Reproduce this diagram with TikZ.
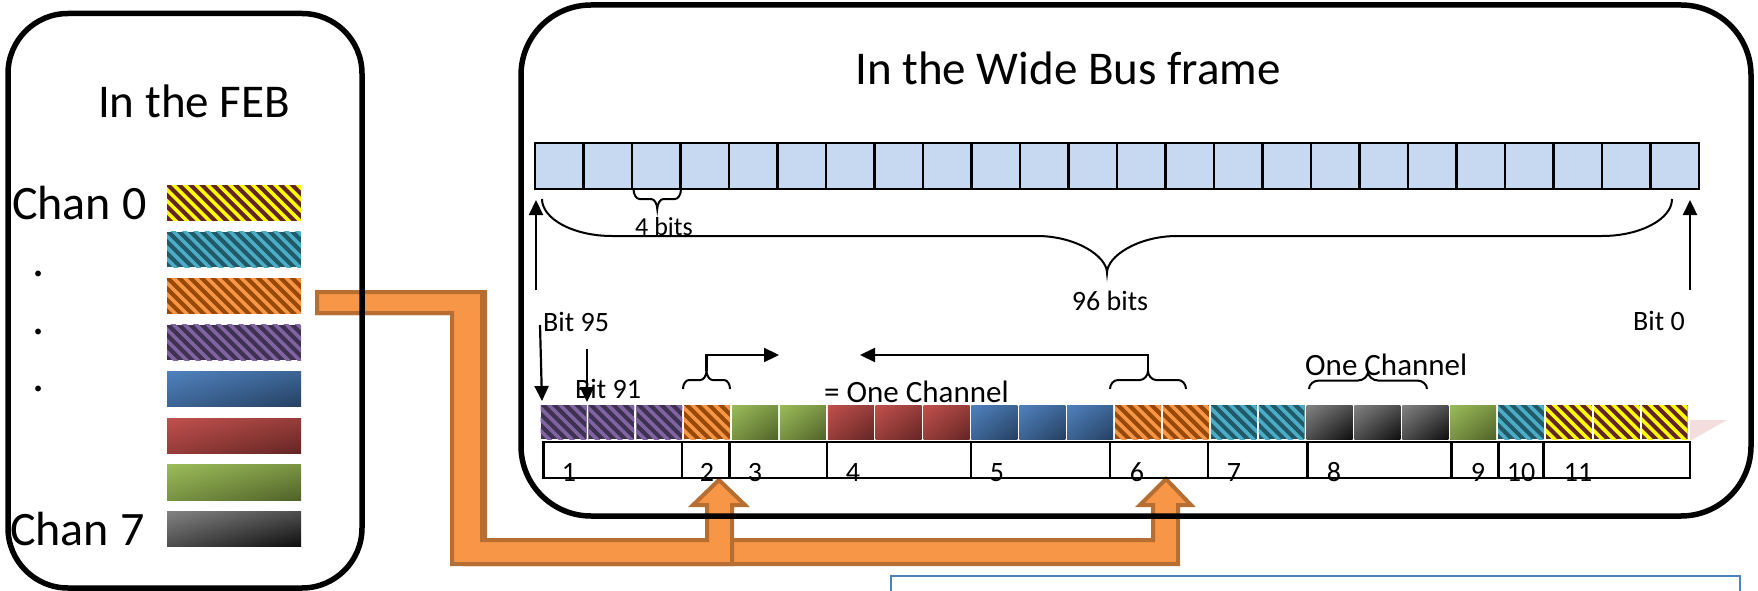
\documentclass[tikz,border=0pt]{standalone}
\usepackage{fontspec}
\setmainfont{Carlito}
\usetikzlibrary{arrows.meta,shadings}
\definecolor{busfill}{RGB}{198,217,241}
\definecolor{orfill}{RGB}{247,150,70}
\definecolor{ordraw}{RGB}{183,110,50}
\definecolor{purD}{RGB}{63,49,81}
\definecolor{purL}{RGB}{128,100,162}
\definecolor{orD}{RGB}{152,72,7}
\definecolor{orL}{RGB}{247,150,70}
\definecolor{teD}{RGB}{33,89,104}
\definecolor{teL}{RGB}{75,172,198}
\definecolor{yeD}{RGB}{99,37,35}
\definecolor{yeL}{RGB}{255,255,0}
\definecolor{blL}{RGB}{79,129,189}
\definecolor{blD}{RGB}{37,64,97}
\definecolor{reL}{RGB}{192,80,77}
\definecolor{reD}{RGB}{99,37,35}
\definecolor{grL}{RGB}{155,187,89}
\definecolor{grD}{RGB}{79,98,40}
\definecolor{gyL}{RGB}{130,130,130}
\definecolor{gyD}{RGB}{13,13,13}
\definecolor{boxblue}{RGB}{79,129,189}
\definecolor{pinkish}{RGB}{244,222,221}

\newcommand{\stripes}[6]{%
  \begin{scope}
    \clip (#1,#2) rectangle (#3,#4);
    \fill[#5] (#1,#2) rectangle (#3,#4);
    \pgfmathsetmacro\stH{#4-#2}
    \foreach \sk in {0,...,16}{
      \draw[#6, line width=3.6pt] ({#1-\stH-6+11.3*\sk},{#2-3}) -- ++(\stH+10,\stH+10);
    }
  \end{scope}}
\newcommand{\gradbox}[6]{%
  \shade[upper left=#5, lower right=#6, upper right=#5!55!#6, lower left=#5!55!#6] (#1,#2) rectangle (#3,#4);}
\newcommand{\sqpu}[4]{\stripes{#1}{#2}{#3}{#4}{purD}{purL}}
\newcommand{\sqor}[4]{\stripes{#1}{#2}{#3}{#4}{orD}{orL}}
\newcommand{\sqte}[4]{\stripes{#1}{#2}{#3}{#4}{teD}{teL}}
\newcommand{\sqye}[4]{\stripes{#1}{#2}{#3}{#4}{yeD}{yeL}}
\newcommand{\sqbl}[4]{\gradbox{#1}{#2}{#3}{#4}{blL}{blD}}
\newcommand{\sqre}[4]{\gradbox{#1}{#2}{#3}{#4}{reL}{reD}}
\newcommand{\sqgr}[4]{\gradbox{#1}{#2}{#3}{#4}{grL}{grD}}
\newcommand{\sqgy}[4]{\gradbox{#1}{#2}{#3}{#4}{gyL}{gyD}}

% horizontal curly brace: x1, x2, y of ends, signed height (+ = downwards), end radius
\newcommand{\hbr}[5]{%
  \pgfmathsetmacro\bxm{(#1+#2)/2}%
  \pgfmathsetmacro\byA{#3+0.27*(#4)}%
  \pgfmathsetmacro\byB{#3+0.5*(#4)}%
  \pgfmathsetmacro\byD{#3+0.77*(#4)}%
  \pgfmathsetmacro\byC{#3+(#4)}%
  \pgfmathsetmacro\bxa{#1+#5}%
  \pgfmathsetmacro\bxaa{#1+0.45*#5}%
  \pgfmathsetmacro\bxb{\bxm-#5}%
  \pgfmathsetmacro\bxbb{\bxm-0.45*#5}%
  \pgfmathsetmacro\bxc{\bxm+#5}%
  \pgfmathsetmacro\bxcc{\bxm+0.45*#5}%
  \pgfmathsetmacro\bxd{#2-#5}%
  \pgfmathsetmacro\bxdd{#2-0.45*#5}%
  \draw[braceline] (#1,#3) .. controls (#1,\byA) and (\bxaa,\byB) .. (\bxa,\byB) -- (\bxb,\byB)
    .. controls (\bxbb,\byB) and (\bxm,\byD) .. (\bxm,\byC)
    .. controls (\bxm,\byD) and (\bxcc,\byB) .. (\bxc,\byB) -- (\bxd,\byB)
    .. controls (\bxdd,\byB) and (#2,\byA) .. (#2,#3);}

\tikzset{
  big/.style={font=\fontsize{47pt}{50pt}\selectfont, inner sep=0pt},
  chan/.style={font=\fontsize{48pt}{50pt}\selectfont, inner sep=0pt},
  lbl/.style={font=\fontsize{28pt}{30pt}\selectfont, inner sep=0pt},
  chl/.style={font=\fontsize{31pt}{33pt}\selectfont, inner sep=0pt},
  sml/.style={font=\fontsize{26pt}{28pt}\selectfont, inner sep=0pt},
  frame/.style={draw=black, line width=5.5pt},
  buscell/.style={draw=black, fill=busfill, line width=2.5pt},
  numbox/.style={draw=black, line width=2.5pt},
  braceline/.style={draw=black, line width=2pt},
  arr/.style={line width=2.2pt, -{Triangle[length=15pt,width=14pt]}},
  oarr/.style={fill=orfill, draw=ordraw, line width=4pt, line join=miter},
}

\begin{document}
\begin{tikzpicture}[x=1pt, y=-1pt]
\useasboundingbox (0,0) rectangle (1758,591);
\clip (0,0) rectangle (1758,591);

% orange arrows (drawn beneath the frames)
\draw[oarr] (317,292) -- (485,292) -- (485,540) -- (1153,540) -- (1153,505) -- (1140,505) -- (1166,479) -- (1191,505) -- (1178,505) -- (1178,564) -- (464,564) -- (464,313) -- (317,313) -- cycle;
\draw[oarr] (317,292) -- (482,292) -- (482,540) -- (707,540) -- (707,505) -- (693,505) -- (719,480) -- (745,505) -- (732,505) -- (732,564) -- (452,564) -- (452,313) -- (317,313) -- cycle;

% frames
\draw[frame, rounded corners=60pt] (8,13.5) rectangle (362,588);
\draw[frame, rounded corners=70pt] (521,5) rectangle (1751,516);

% blue text box (bottom right)
\draw[boxblue, line width=2pt] (891,576) rectangle (1740,640);

% titles
\node[big, anchor=base] (feb) at (194,117.5) {In the FEB};
\node[big, anchor=base] (wbf) at (1068,85) {In the Wide Bus frame};

% FEB channels
\node[chan, anchor=base west] (c0) at (12,219) {Chan 0};
\node[chan, anchor=base west] (c7) at (10,545) {Chan 7};
\node[chan, anchor=base] (d1) at (39,276) {.};
\node[chan, anchor=base] (d2) at (39,334) {.};
\node[chan, anchor=base] (d3) at (39,391) {.};
\foreach \i/\t in {0/ye,1/te,2/or,3/pu,4/bl,5/re,6/gr,7/gy}{
  \pgfmathsetmacro\ya{185+46.6*\i}
  \pgfmathsetmacro\yb{\ya+35.5}
  \csname sq\t\endcsname{167}{\ya}{301}{\yb}
}

% wide bus row
\foreach \k in {0,...,23}{
  \pgfmathsetmacro\xa{535+48.5*\k}
  \draw[buscell] (\xa,143) rectangle ++(48.5,46);
}

% braces on the bus
\hbr{633.5}{681}{189}{20}{6}
\node[sml, anchor=base west] (fourbits) at (635,235) {4 bits};
\hbr{542}{1672}{199}{74}{70}
\node[lbl, anchor=base] (ninetysix) at (1110,310) {96 bits};

% bit arrows
\coordinate (u95a) at (536,290); \coordinate (u95b) at (536,200);
\coordinate (u0a) at (1690,290); \coordinate (u0b) at (1690,200);
\draw[arr] (u95a) -- (u95b);
\draw[arr] (u0a) -- (u0b);
\node[lbl, anchor=base west] (b95) at (543,331) {Bit 95};
\node[lbl, anchor=base west] (b0) at (1633,330) {Bit 0};
\node[lbl, anchor=base west] (b91) at (575,398) {Bit 91};
\coordinate (d95a) at (540,325); \coordinate (d95b) at (542,401);
\coordinate (d91a) at (587,349); \coordinate (d91b) at (587,402);
\draw[arr] (d95a) -- (d95b);
\draw[arr] (d91a) -- (d91b);

% faint shadow wedge
\fill[pinkish] (1690,420) -- (1727,420) -- (1690,441) -- cycle;

% channel squares
\foreach \k/\t in {0/pu,1/pu,2/pu,3/or,4/gr,5/gr,6/re,7/re,8/re,9/bl,10/bl,11/bl,12/or,13/or,14/te,15/te,16/gy,17/gy,18/gy,19/gr,20/te,21/ye,22/ye,23/ye}{
  \pgfmathsetmacro\xa{540.6+47.875*\k}
  \pgfmathsetmacro\xb{\xa+46}
  \csname sq\t\endcsname{\xa}{405}{\xb}{439}
}

% channel number boxes
\foreach \a/\b in {543.7/682,682/729.6,729.6/827,827/970.8,970.8/1110,1110/1208,1208/1307.7,1307.7/1451.7,1451.7/1498.7,1498.7/1543.6,1543.6/1690}{
  \draw[numbox] (\a,442) rectangle (\b,478);
}
\foreach \x/\n in {569/1,707/2,755/3,853/4,997/5,1137/6,1234/7,1334/8,1478/9,1521/10,1578/11}{
  \node[lbl, anchor=base] (n\n) at (\x,481) {\n};
}

% "one channel" braces and arrows
\hbr{683}{730}{389}{-18}{6}
\coordinate (ra0) at (706.5,371); \coordinate (ra1) at (706.5,355); \coordinate (ra2) at (779,355);
\draw[arr] (ra0) -- (ra1) -- (ra2);
\hbr{1110}{1186}{389}{-18}{8}
\coordinate (la0) at (1148,371); \coordinate (la1) at (1148,355); \coordinate (la2) at (860,355);
\draw[arr] (la0) -- (la1) -- (la2);
\node[chl, anchor=base west] (eqone) at (824,402) {= One Channel};
\hbr{1309}{1427}{389}{-17}{10}
\node[chl, anchor=base west] (onech) at (1305,375) {One Channel};
\end{tikzpicture}
\end{document}
